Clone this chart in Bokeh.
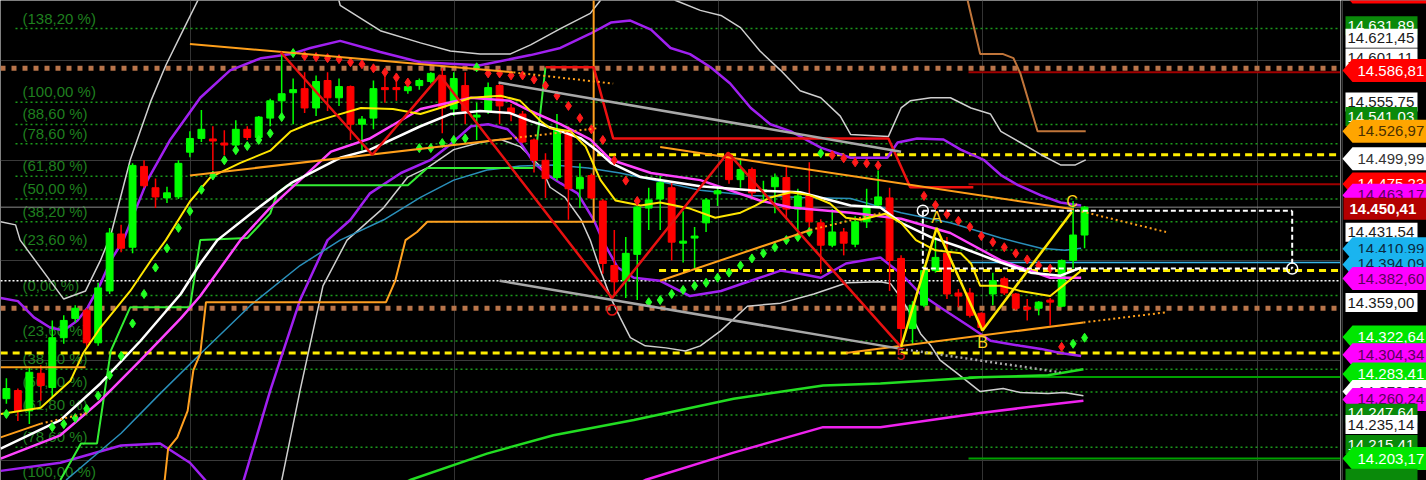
from bokeh.plotting import figure
from bokeh.models import Range1d, FixedTicker, Grid, ColumnDataSource
from bokeh.layouts import row
from bokeh.embed import file_html
from bokeh.resources import INLINE
from bokeh.core.properties import value

FONT = value("Liberation Sans")

# ---------------- candles (bar index 0..94) ----------------
opens = [14262,14270,14250,14287,14273,14322,14341,14349,14317,14368,
         14424,14411,14490.5,14469.5,14459.5,14460.5,14504.5,14518,14517.5,14513.5,
         14511.5,14527,14519,14538,14555,14563,14567,14548,14575,14558,
         14569,14532,14538,14568,14568,14565,14570,14574,14580,14547,
         14570,14539,14545,14570,14548,14542,14516.5,14496.5,14479.5,14525,
         14468.5,14481.5,14456.5,14393,14378,14404,14449.5,14458.5,14469.5,14415,
         14420,14435,14463.5,14501.5,14477.5,14487.5,14465.5,14470.5,14479.5,14448.5,
         14461.5,14435,14413,14426,14414,14436,14452.5,14459.5,14400,14331,
         14354,14388,14405,14366,14366,14346,14365,14380,14365,14352,
         14351,14359,14353,14398,14423]
highs = [14282,14272,14293,14295,14339,14344,14354,14351,14376,14430,
         14433,14493.5,14496.5,14478.5,14470.5,14496.5,14525,14546,14530,14526,
         14536,14530,14540,14557,14602,14577,14583,14580,14583,14577,
         14570,14540,14575,14583,14580,14575,14577,14583,14587,14583,
         14583,14553,14573,14572,14552,14545,14518,14503.5,14542,14530,
         14493.5,14483.5,14458.5,14428,14421,14457.5,14469.5,14481.5,14474.5,14446.5,
         14431,14459.5,14469.5,14504.5,14498.5,14489.5,14476.5,14483.5,14491.5,14468.5,
         14494.5,14438.5,14448.5,14430,14441.5,14468.5,14486.5,14469.5,14403,14358,
         14393,14421,14421,14370,14371,14347,14386,14382,14366,14360,
         14358,14361,14399,14456.5,14451.5]
lows = [14257,14240,14237,14260,14263,14316,14337,14313,14314,14365,
        14406,14405,14469.5,14449.5,14454.5,14458.5,14499.5,14514.5,14486.5,14501.5,
        14508.5,14516.5,14516.5,14530,14542,14532,14543,14540,14545,14550,
        14516.5,14506.5,14527,14553,14555,14562,14566,14572,14523,14540,
        14532,14516.5,14542,14532,14535,14513.5,14484.5,14459.5,14476.5,14438,
        14449.5,14458.5,14385,14363,14361,14359,14428,14428,14398,14396,
        14390,14426,14451.5,14473.5,14469.5,14458.5,14454.5,14444.5,14438.5,14428,
        14430,14385,14411,14403,14411,14430,14450.5,14368,14314,14316,
        14352,14386,14360,14352,14342,14329,14354,14364,14349,14339,
        14344,14334,14352,14390,14410]
closes = [14272,14250,14288,14275,14322,14339,14351,14317,14371,14425,
          14410,14491.5,14471.5,14460.5,14464.5,14493.5,14518,14527,14515.5,14511.5,
          14527,14519,14539,14555,14562,14566,14548,14574,14558,14569,
          14532,14537,14567,14566,14566,14569,14575,14582,14548,14577,
          14545,14541,14568,14550,14543,14514.5,14496.5,14478.5,14527,14468.5,
          14479.5,14459.5,14395,14377,14405,14450.5,14457.5,14474.5,14416,14417,
          14422,14457.5,14466.5,14477.5,14487.5,14464.5,14467.5,14479.5,14448.5,14461.5,
          14436,14413,14426,14415,14436,14451.5,14460.5,14398,14331,14354,
          14388,14401,14365,14363,14344,14332,14378,14366,14351,14350,
          14357,14357,14398,14423,14450.41]

# ---------------- stop-and-reverse dots ----------------
sar_x = [0] + list(range(4, 77)) + list(range(80, 95))
sar_y = [14247,
         14234,14237,14243,14252,14265,14285,14304,14336,14365,14391,
         14410,14430,14446.5,14467.5,14481.5,14496.5,14506.5,14510.5,14516.5,14523,14539,14602,
         14599,14598,14597,14596,14593,14591,14587,14583,14578,14573,
         14508.5,14508.5,14513.5,14516.5,14518,14588,
         14582,14582,14580,14580,14576,14570,14560,14550,14538,14527,14516.5,14496.5,14476.5,14456.5,
         14357,14359,14365,14369,14373,14376,14381,14386,14393,14400,14405,14411,14418,14421,14426,14503.5,
         14501.5,14498.5,14494.5,14493.5,14491.5,
         14461.5,14452.5,14443.5,14437,14431,14422,14416,14411,14405,14399,14393,14390,14313,14316,14322]
sar_side = "g" * 23 + "r" * 10 + "g" * 6 + "r" * 14 + "g" * 16 + "r" * 5 + "r" * 13 + "g" * 2

# ---------------- indicator lines (bar position, price) ----------------
yellow_x = [-0.5,3.0,5.6,6.7,8.2,10.8,12.6,13.9,16.0,17.8,20.4,23.0,24.8,26.5,28.5,30.9,33.7,36.1,37.8,40.5,
            43.1,44.8,46.6,47.4,49.2,50.5,51.8,53.1,55.3,57.0,59.6,61.8,64.0,65.3,66.6,68.4,70.1,71.8,73.2,74.5,
            76.6,78.0,79.3,81.0,83.2,84.1,84.9,86.7,88.4,91.0,92.1,93.7]
yellow_y = [14247,14253,14280,14307,14332,14368,14398,14418,14456,14480,14494,14506,14525,14533,14540,14548,14547,14542,14548,14558,
            14560,14555,14535,14528,14525,14510,14477,14457,14452,14455,14449,14440,14445,14452,14460,14465,14462,14454,14440,14438,
            14444,14435,14418,14408,14405,14395,14373,14373,14368,14363,14373,14388]
white_x = [-0.5,4.7,8.2,11.7,15.2,16.9,18.4,21.3,24.8,29.1,31.7,36.1,38.7,41.3,43.9,45.7,47.9,50.1,51.4,52.7,
           55.3,60.5,64.9,69.2,73.6,76.2,78.0,80.6,83.2,86.7,89.3,91.9,93.7]
white_y = [14213,14241,14277,14319,14365,14395,14418,14444,14474,14499,14507,14530,14542,14545,14543,14535,14527,14518,14507,14494,
           14480,14471,14467,14465,14452,14450,14435,14421,14411,14396,14386,14383,14391]
pink_x = [-0.5,4.7,8.2,11.7,15.2,16.9,20.4,23.0,25.6,28.3,31.7,36.1,40.5,43.9,45.7,48.3,50.9,52.7,56.2,60.5,
          65.7,68.4,73.6,78.0,82.3,86.7,91.0,93.7]
pink_y = [14203,14226,14260,14300,14341,14363,14418,14450,14477,14505,14518,14547,14558,14555,14545,14532,14517,14497,14484,14477,
          14457,14450,14445,14439,14425,14398,14381,14381]
band_up_x = [-0.5,1.0,2.4,3.8,5.0,6.2,7.1,8.2,9.1,10.2,12.3,14.3,16.9,19.5,22.2,24.8,26.5,29.1,32.6,36.1,
             41.3,45.7,48.3,50.9,52.7,54.4,56.2,57.9,59.6,61.4,63.1,64.9,66.6,68.4,71.0,73.6,76.8,77.7,79.4,81.7,
             83.2,85.2,86.7,88.2,90.2,91.9,93.7]
band_up_y = [14361,14358,14342,14332,14329,14339,14352,14375,14398,14418,14477,14517,14558,14585,14597,14601,14607,14614,14603,14593,
             14590,14600,14607,14621,14632,14634,14625,14607,14601,14588,14572,14548,14532,14525,14509,14499,14499,14514,14518,14517,
             14507,14497,14482,14472,14462,14455,14452]
band_lo_x = [-0.5,4.7,10.0,13.4,16.0,17.8,20.4,23.0,25.6,28.0,30.0,31.7,34.4,37.0,38.7,40.5,42.0,43.7,44.8,46.0,
             47.2,48.3,49.8,51.2,52.1,53.3,54.7,57.0,59.6,62.3,64.9,67.5,69.2,71.0,73.2,76.2,78.0,79.7,81.4,84.1,
             85.8,88.4,90.2,91.9,93.7]
band_lo_y = [14191,14199,14216,14218,14199,14176,14171,14270,14359,14418,14438,14464,14484,14497,14512,14530,14532,14527,14514,14494,
             14482,14474,14464,14438,14415,14391,14381,14378,14363,14368,14378,14388,14385,14381,14395,14401,14385,14365,14352,14332,
             14319,14314,14311,14307,14304]
outer_up_x = [-0.5,0.8,1.2,5.0,6.9,8.2,9.1,10.8,12.6,13.9,15.6,16.7,17.8,28.3,29.1,32.6,36.1,38.7,41.3,43.9,
              45.7,48.3,50.9,51.8,52.9,57.5,58.3,60.5,62.3,64.0,65.7,67.5,69.2,71.0,72.7,73.6,76.9,78.0,78.8,80.6,
              82.3,84.1,85.8,86.7,88.4,90.2,91.9,93.2,94.1]
outer_up_y = [14436,14433,14418,14360,14368,14398,14423,14497,14555,14590,14629,14654,14683,14683,14649,14624,14612,14604,14601,14601,
              14610,14626,14641,14654,14683,14683,14654,14644,14639,14627,14604,14585,14565,14558,14540,14522,14520,14548,14555,14558,
              14558,14548,14542,14525,14514,14502,14492,14492,14497]
outer_lo_x = [23.9,25.6,27.6,29.7,32.9,35.0,36.7,39.0,41.3,43.1,44.8,46.6,47.4,48.7,50.1,50.9,51.8,52.7,53.5,54.4,
              55.7,57.5,59.2,60.5,62.3,64.6,67.5,70.4,73.3,76.2,77.1,78.0,78.8,79.7,80.6,81.4,82.9,84.9,86.9,88.4,
              90.8,92.2,93.9]
outer_lo_y = [14176,14270,14373,14418,14450,14480,14489,14507,14514,14517,14510,14490,14470,14460,14438,14418,14388,14361,14342,14322,
              14314,14312,14309,14314,14329,14353,14356,14365,14376,14377,14375,14361,14346,14326,14314,14300,14287,14269,14272,14268,
              14267,14268,14265]
teal_x = [5.2,10.0,13.4,16.9,21.3,25.6,29.1,32.9,36.1,39.0,41.9,44.8,47.7,50.7,53.5,56.4,60.5,64.9,69.2,73.6,
          78.0,82.3,86.7,90.2,92.3,93.7]
teal_y = [14182,14228,14267,14306,14354,14393,14418,14438,14460,14477,14487,14491,14492,14489,14484,14477,14467,14462,14460,14459,
          14445,14435,14420,14410,14408,14410]
stop_up_x = [4.7,6.5,7.9,9.1,10.8,16.0,16.9,21.0,23.0,23.6,24.5,35.0,36.7,46.0,47.0]
stop_up_y = [14182,14218,14218,14309,14352,14352,14418,14420,14444,14464,14472,14472,14489,14489,14588]
stop_dn_x = [47.0,51.2,52.9,76.9,78.8,84.3]
stop_dn_y = [14588,14588,14518,14518,14470,14470]
orange_step_x = [13.4,13.8,14.1,14.9,15.8,16.3,16.9,17.4,33.1,33.9,34.8,35.8,36.7,51.2,51.2]
orange_step_y = [14176,14182,14213,14224,14250,14290,14306,14357,14357,14378,14418,14426,14436,14436,14690]
brown_step_x = [83.2,83.8,84.9,86.9,87.8,88.4,89.9,94.1]
brown_step_y = [14690,14654,14601,14601,14597,14582,14525,14525]
ma_green_x = [33.0,35.2,41.9,47.7,54.7,63.4,71.2,76.2,84.9,90.8,93.9]
ma_green_y = [14170,14182,14208,14226,14241,14262,14275,14277,14283,14285,14291]
ma_magenta_x = [53.5,55.7,63.4,71.2,76.2,84.9,89.3,93.9]
ma_magenta_y = [14170,14182,14209,14234,14234,14248,14254,14260]

# trend lines: (x_start, y_start, x_end, y_end, x_ext, y_ext)
orange_trends = [(16.0,14611,44.2,14583,52.9,14572),
                 (16.0,14481.5,43.9,14518,51.5,14528),
                 (57.0,14509.5,92.9,14448.5,101.1,14426),
                 (57.0,14378,70.1,14428,76.2,14444.5),
                 (73.2,14307,93.9,14337,101.1,14347),
                 (-0.5,14224,3.0,14237.5,7.1,14248)]
orange_flat = (-0.5, 6.9, 14293)
gray_trends = [(42.9,14573,78.0,14505,None,None),
               (43.0,14378,78.0,14311,91.9,14288)]
wave_x = [23.9,31.9,37.8,52.8,62.9,78.0]
wave_y = [14603,14502,14580,14361,14504,14313]
abc_x = [78.0,81.1,85.1,92.9]
abc_y = [14313,14430,14329,14446]
abc_labels = ["5","A","B","C"]

# horizontal levels
fib_pct = [138.2,100,88.6,78.6,61.8,50,38.2,23.6,0,-23.6,-38.2,-50,-61.8,-78.6,-100]
fib_low, fib_high = 14363.5, 14553.5
brown_levels = [14587, 14351]
yellow_levels = [(51.5, 14502), (56.9, 14388), (-0.5, 14307)]
white_dotted_level = 14378
last_price = 14450.41
box_top, box_bottom, box_x0, box_x1 = 14447, 14390, 79.9, 112.1
darkred_levels = [14583, 14473]
darkgreen_levels = [14283.41, 14203.17]
cyan_level = 14396
grid_prices = [14594.7, 14496.3, 14397.9, 14299.6, 14201.2]

# right-hand price tags (drawn in this order)
tag_price = [14660.00,14631.89,14621.45,14601.11,14586.81,14555.75,14541.03,14526.97,14499.99,14475.23,
             14463.17,14450.41,14431.54,14410.99,14394.09,14382.60,14359.00,14322.64,14304.34,14283.41,
             14270.52,14260.24,14247.64,14235.14,14215.41,14203.17,14183.86]
tag_style = ["red","dkgreen","white","white","red","white","dkgreen","orange","whitearrow","red",
             "magenta","last","white","cyan","cyan","magenta","white","green","magenta","green",
             "whitearrow","magenta","dkgreen","white","dkgreen","green","dkgreen"]

# ---------------- layout helpers ----------------
PX0, PXBAR = 5.9, 11.47
def px2bar(px):
    return (px - PX0) / PXBAR

W_MAIN, W_TAGS, H = 1340, 86, 480
Y0, Y1 = 14181.54, 14653.70
PPX = (Y1 - Y0) / H
X0, X1 = px2bar(0), px2bar(W_MAIN)

yr = Range1d(Y0, Y1)
p = figure(width=W_MAIN, height=H, x_range=Range1d(X0, X1), y_range=yr,
           output_backend="svg", toolbar_location=None,
           x_axis_location=None, y_axis_location=None, min_border=0,
           background_fill_color="black", border_fill_color="black", outline_line_color=None)
p.grid.visible = False
p.add_layout(Grid(dimension=0, ticker=FixedTicker(ticks=[px2bar(v) for v in (190, 454, 718, 982, 1257)]),
                  grid_line_color="#333333", grid_line_width=1))
p.add_layout(Grid(dimension=1, ticker=FixedTicker(ticks=grid_prices),
                  grid_line_color="#3a3a3a", grid_line_width=1))

def ln(xs, ys, color, width=2.0, dash="solid", alpha=1.0):
    p.line(xs, ys, line_color=color, line_width=width, line_dash=dash, line_alpha=alpha)

# fib levels
fib_y = [fib_low + v / 100.0 * (fib_high - fib_low) for v in fib_pct]
fib_text = ["(" + ("%.2f" % abs(v)).replace(".", ",") + " %)" for v in fib_pct]
p.segment(x0=px2bar(15), y0=fib_y, x1=X1, y1=fib_y, line_color="#1c9a1c", line_width=1.5, line_dash="2 3")
fib_lab_y = [max(v + 2 * PPX, Y0 + 1 * PPX) for v in fib_y]
p.text(x=[px2bar(22)] * len(fib_y), y=fib_lab_y, text=fib_text,
       text_color="#1f7f1f", text_font=FONT, text_font_size="15px", text_baseline="bottom", text_align="left")

# other horizontal levels
p.segment(x0=X0, y0=last_price, x1=X1, y1=last_price, line_color="#8a8a8a", line_width=1)
for lv in brown_levels:
    ln([X0, X1], [lv, lv], "#b8744a", 5, "5 6")
for xs, lv in yellow_levels:
    ln([xs, X1], [lv, lv], "#ffee00", 3, "7 5")
ln([X0, X1], [white_dotted_level] * 2, "#ffffff", 1.5, "2 2")
for lv in darkred_levels:
    ln([px2bar(968), X1], [lv, lv], "#a00000", 2)
for lv in darkgreen_levels:
    ln([px2bar(968), X1], [lv, lv], "#00a000", 2)
ln([px2bar(968), X1], [cyan_level] * 2, "#3ab4e6", 1.5)

# bands & slow lines
ln(outer_up_x, outer_up_y, "#cfcfcf", 1.5)
ln(outer_lo_x, outer_lo_y, "#cfcfcf", 1.5)
ln(band_up_x, band_up_y, "#a020f0", 2.5)
ln(band_lo_x, band_lo_y, "#a020f0", 2.5)
ln(teal_x, teal_y, "#2a8fba", 1.5)
ln(ma_green_x, ma_green_y, "#22dd22", 2.5)
ln(ma_magenta_x, ma_magenta_y, "#ee22ee", 2.5)
ln(orange_step_x, orange_step_y, "#ffa020", 2)
ln(brown_step_x, brown_step_y, "#c0753a", 2)
ln(stop_up_x, stop_up_y, "#33ee33", 2)
ln(stop_dn_x, stop_dn_y, "#ee1111", 2.5)

# candles
bull = [c >= o for o, c in zip(opens, closes)]
ccol = ["#00ff00" if b else "#ff0000" for b in bull]
tops = [max(o, c) for o, c in zip(opens, closes)]
bots = [min(o, c) for o, c in zip(opens, closes)]
tops = [t if t - b >= 1.5 else b + 1.5 for t, b in zip(tops, bots)]
csrc = ColumnDataSource(dict(x=list(range(len(opens))), hi=highs, lo=lows, top=tops, bot=bots, col=ccol))
p.segment(x0="x", y0="lo", x1="x", y1="hi", line_color="col", line_width=1.5, source=csrc)
p.vbar(x="x", width=0.6, top="top", bottom="bot", fill_color="col", line_color="col", source=csrc)

# moving averages
ln(pink_x, pink_y, "#ff44ff", 2.5)
ln(white_x, white_y, "#ffffff", 2.5)
ln(yellow_x, yellow_y, "#ffe600", 2)

# SAR dots
scol = ["#22ff22" if s == "g" else "#ff1a1a" for s in sar_side]
p.scatter(x=sar_x, y=sar_y, marker="diamond", size=9, fill_color=scol, line_color=scol)

# trend lines
for x0, y0, x1, y1, x2, y2 in orange_trends:
    ln([x0, x1], [y0, y1], "#ff9f1a", 2)
    ln([x1, x2], [y1, y2], "#ff9f1a", 2, "2 3")
ln([orange_flat[0], orange_flat[1]], [orange_flat[2]] * 2, "#ff9f1a", 2)
for x0, y0, x1, y1, x2, y2 in gray_trends:
    ln([x0, x1], [y0, y1], "#a8a8a8", 2.5)
    if x2 is not None:
        ln([x1, x2], [y1, y2], "#a8a8a8", 2.5, "2 3")

# zig-zags
ln(wave_x, wave_y, "#e81010", 2.5)
ln(abc_x, abc_y, "#ffe600", 2.5)
p.text(x=[abc_x[0]], y=[abc_y[0] - 1 * PPX], text=[abc_labels[0]], text_color="#d01818",
       text_font=FONT, text_font_size="16px", text_align="center", text_baseline="top")
p.text(x=[abc_x[1], abc_x[3]], y=[abc_y[1] + 2 * PPX, abc_y[3] + 2 * PPX], text=[abc_labels[1], abc_labels[3]],
       text_color="#ffd21a", text_font=FONT, text_font_size="16px", text_align="center", text_baseline="bottom")
p.text(x=[abc_x[2]], y=[abc_y[2] - 3 * PPX], text=[abc_labels[2]], text_color="#ffd21a",
       text_font=FONT, text_font_size="16px", text_align="center", text_baseline="top")

# white dashed measuring box
ln([box_x0, box_x1], [box_top] * 2, "#ffffff", 2, "5 3")
ln([box_x0, box_x1], [box_bottom] * 2, "#ffffff", 2, "5 3")
ln([box_x0, box_x0], [box_top, box_bottom], "#ffffff", 2, "5 3")
ln([box_x1, box_x1], [box_top, box_bottom], "#ffffff", 2, "5 3")
p.scatter(x=[box_x0, box_x1], y=[box_top, box_bottom], marker="circle", size=11,
          fill_color=None, line_color="#ffffff", line_width=1.5)
p.scatter(x=[wave_x[3]], y=[wave_y[3] - 12 * PPX], marker="circle", size=10,
          fill_color=None, line_color="#e81010", line_width=1.5)

# ---------------- price tag column ----------------
p2 = figure(width=W_TAGS, height=H, x_range=Range1d(0, W_TAGS), y_range=yr,
            output_backend="svg", toolbar_location=None,
            x_axis_location=None, y_axis_location=None, min_border=0,
            background_fill_color="black", border_fill_color="black", outline_line_color=None)
p2.grid.visible = False
p2.segment(x0=1.7, y0=Y0, x1=1.7, y1=Y1, line_color="#555555", line_width=1)

STYLES = {
    "red": ("arrow", "#ff0000", "#ffffff"),
    "dkgreen": ("box", "#0a8a0a", "#ffffff"),
    "white": ("box", "#ffffff", "#1a1a1a"),
    "orange": ("arrow", "#ffa500", "#4a3000"),
    "whitearrow": ("arrow", "#ffffff", "#333333"),
    "magenta": ("arrow", "#ff00ff", "#5a005a"),
    "last": ("last", "#b40000", "#ffffff"),
    "cyan": ("arrow", "#1ab4ef", "#0a2a40"),
    "green": ("arrow", "#00e600", "#ffffff"),
}
tag_shift_px = [-2, 3, 5, 4, 2, 2, 1.5, 2, 2, 2, 1, 1.5, 6, 1.5, 0, 2.5, 2.5, 0, -1, -3, 1.5, -1, 0, -1.5, -1.5, 0, 0]

def fmt(v):
    s = "{:,.2f}".format(v)
    return s.replace(",", "X").replace(".", ",").replace("X", ".")

for price, style, sh in zip(tag_price, tag_style, tag_shift_px):
    kind, bg, fg = STYLES[style]
    c = price - sh * PPX
    if kind == "arrow":
        h = 11.5 * PPX
        xs = [2, 12, W_TAGS + 5, W_TAGS + 5, 12]
        ys = [c, c + h, c + h, c - h, c - h]
        tx, bold = 17, False
    elif kind == "last":
        h = 11 * PPX
        xs = [3, W_TAGS + 5, W_TAGS + 5, 3]
        ys = [c + h, c + h, c - h, c - h]
        tx, bold = 9, True
    else:
        h = 9.5 * PPX
        xs = [5, 77, 77, 5]
        ys = [c + h, c + h, c - h, c - h]
        tx, bold = 7, False
    p2.patch(xs, ys, fill_color=bg, line_color=None)
    # label only tags whose text lies fully inside the panel (as in the reference)
    if c + 7 * PPX < Y1 and c - 7 * PPX > Y0:
        p2.text(x=[tx], y=[c], text=[fmt(price)], text_color=fg, text_font=FONT,
                text_font_size="15px", text_baseline="middle", text_align="left",
                text_font_style="bold" if bold else "normal")

layout = row(p, p2)
open("out.html", "w").write(file_html(layout, INLINE))
